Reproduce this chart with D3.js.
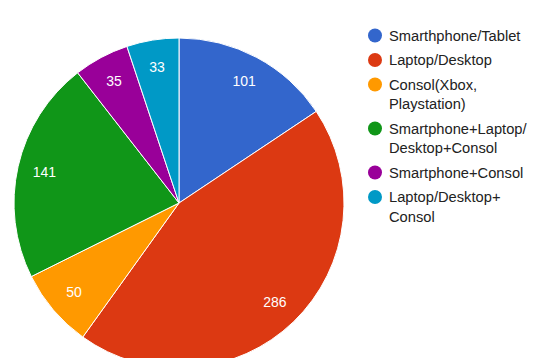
<!DOCTYPE html>
<html>
<head>
<meta charset="utf-8">
<script src="https://cdn.jsdelivr.net/npm/d3@7"></script>
<style>
  html, body { margin: 0; padding: 0; background: #fff; }
  svg { display: block; font-family: Arial, "Liberation Sans", sans-serif; }
</style>
</head>
<body>
<svg id="chart" width="539" height="358"></svg>
<script>
// Device usage categories, counts and slice colours
const categories = [
  "Smarthphone/Tablet",
  "Laptop/Desktop",
  "Consol(Xbox, Playstation)",
  "Smartphone+Laptop/ Desktop+Consol",
  "Smartphone+Consol",
  "Laptop/Desktop+ Consol"
];
const values = [101, 286, 50, 141, 35, 33];
const colors = ["#3366cc", "#dc3912", "#ff9900", "#109618", "#990099", "#0099c6"];
// Legend text, wrapped as in the legend box
const legendLines = [
  ["Smarthphone/Tablet"],
  ["Laptop/Desktop"],
  ["Consol(Xbox,", "Playstation)"],
  ["Smartphone+Laptop/", "Desktop+Consol"],
  ["Smartphone+Consol"],
  ["Laptop/Desktop+", "Consol"]
];

const svg = d3.select("#chart");
const cx = 179, cy = 203, radius = 165, labelRadius = 138;

const data = categories.map((c, i) => ({ name: c, value: values[i], color: colors[i] }));

const pie = d3.pie().value(d => d.value).sort(null);
const arc = d3.arc().innerRadius(0).outerRadius(radius);
const labelArc = d3.arc().innerRadius(labelRadius).outerRadius(labelRadius);

const g = svg.append("g").attr("transform", `translate(${cx},${cy})`);
const arcs = pie(data);

g.selectAll("path.slice")
  .data(arcs)
  .join("path")
  .attr("class", "slice")
  .attr("d", arc)
  .attr("fill", d => d.data.color)
  .attr("stroke", "#fff")
  .attr("stroke-width", 1);

g.selectAll("text.value")
  .data(arcs)
  .join("text")
  .attr("class", "value")
  .attr("transform", d => {
    const [x, y] = labelArc.centroid(d);
    return `translate(${x},${y})`;
  })
  .attr("text-anchor", "middle")
  .attr("dy", "0.36em")
  .attr("fill", "#fff")
  .attr("font-size", 14)
  .text(d => d.data.value);

// Legend
const legend = svg.append("g");
const circleX = 375, textX = 389, firstBaseline = 40.5, lineStep = 19.5, itemStep = 24.5;
let baseline = firstBaseline;
legendLines.forEach((lines, i) => {
  const item = legend.append("g");
  item.append("circle")
    .attr("cx", circleX)
    .attr("cy", baseline - 5)
    .attr("r", 7)
    .attr("fill", colors[i]);
  lines.forEach((t, j) => {
    item.append("text")
      .attr("x", textX)
      .attr("y", baseline + j * lineStep)
      .attr("font-size", 14.7)
      .attr("fill", "#222")
      .text(t);
  });
  baseline += (lines.length - 1) * lineStep + itemStep;
});
</script>
</body>
</html>
